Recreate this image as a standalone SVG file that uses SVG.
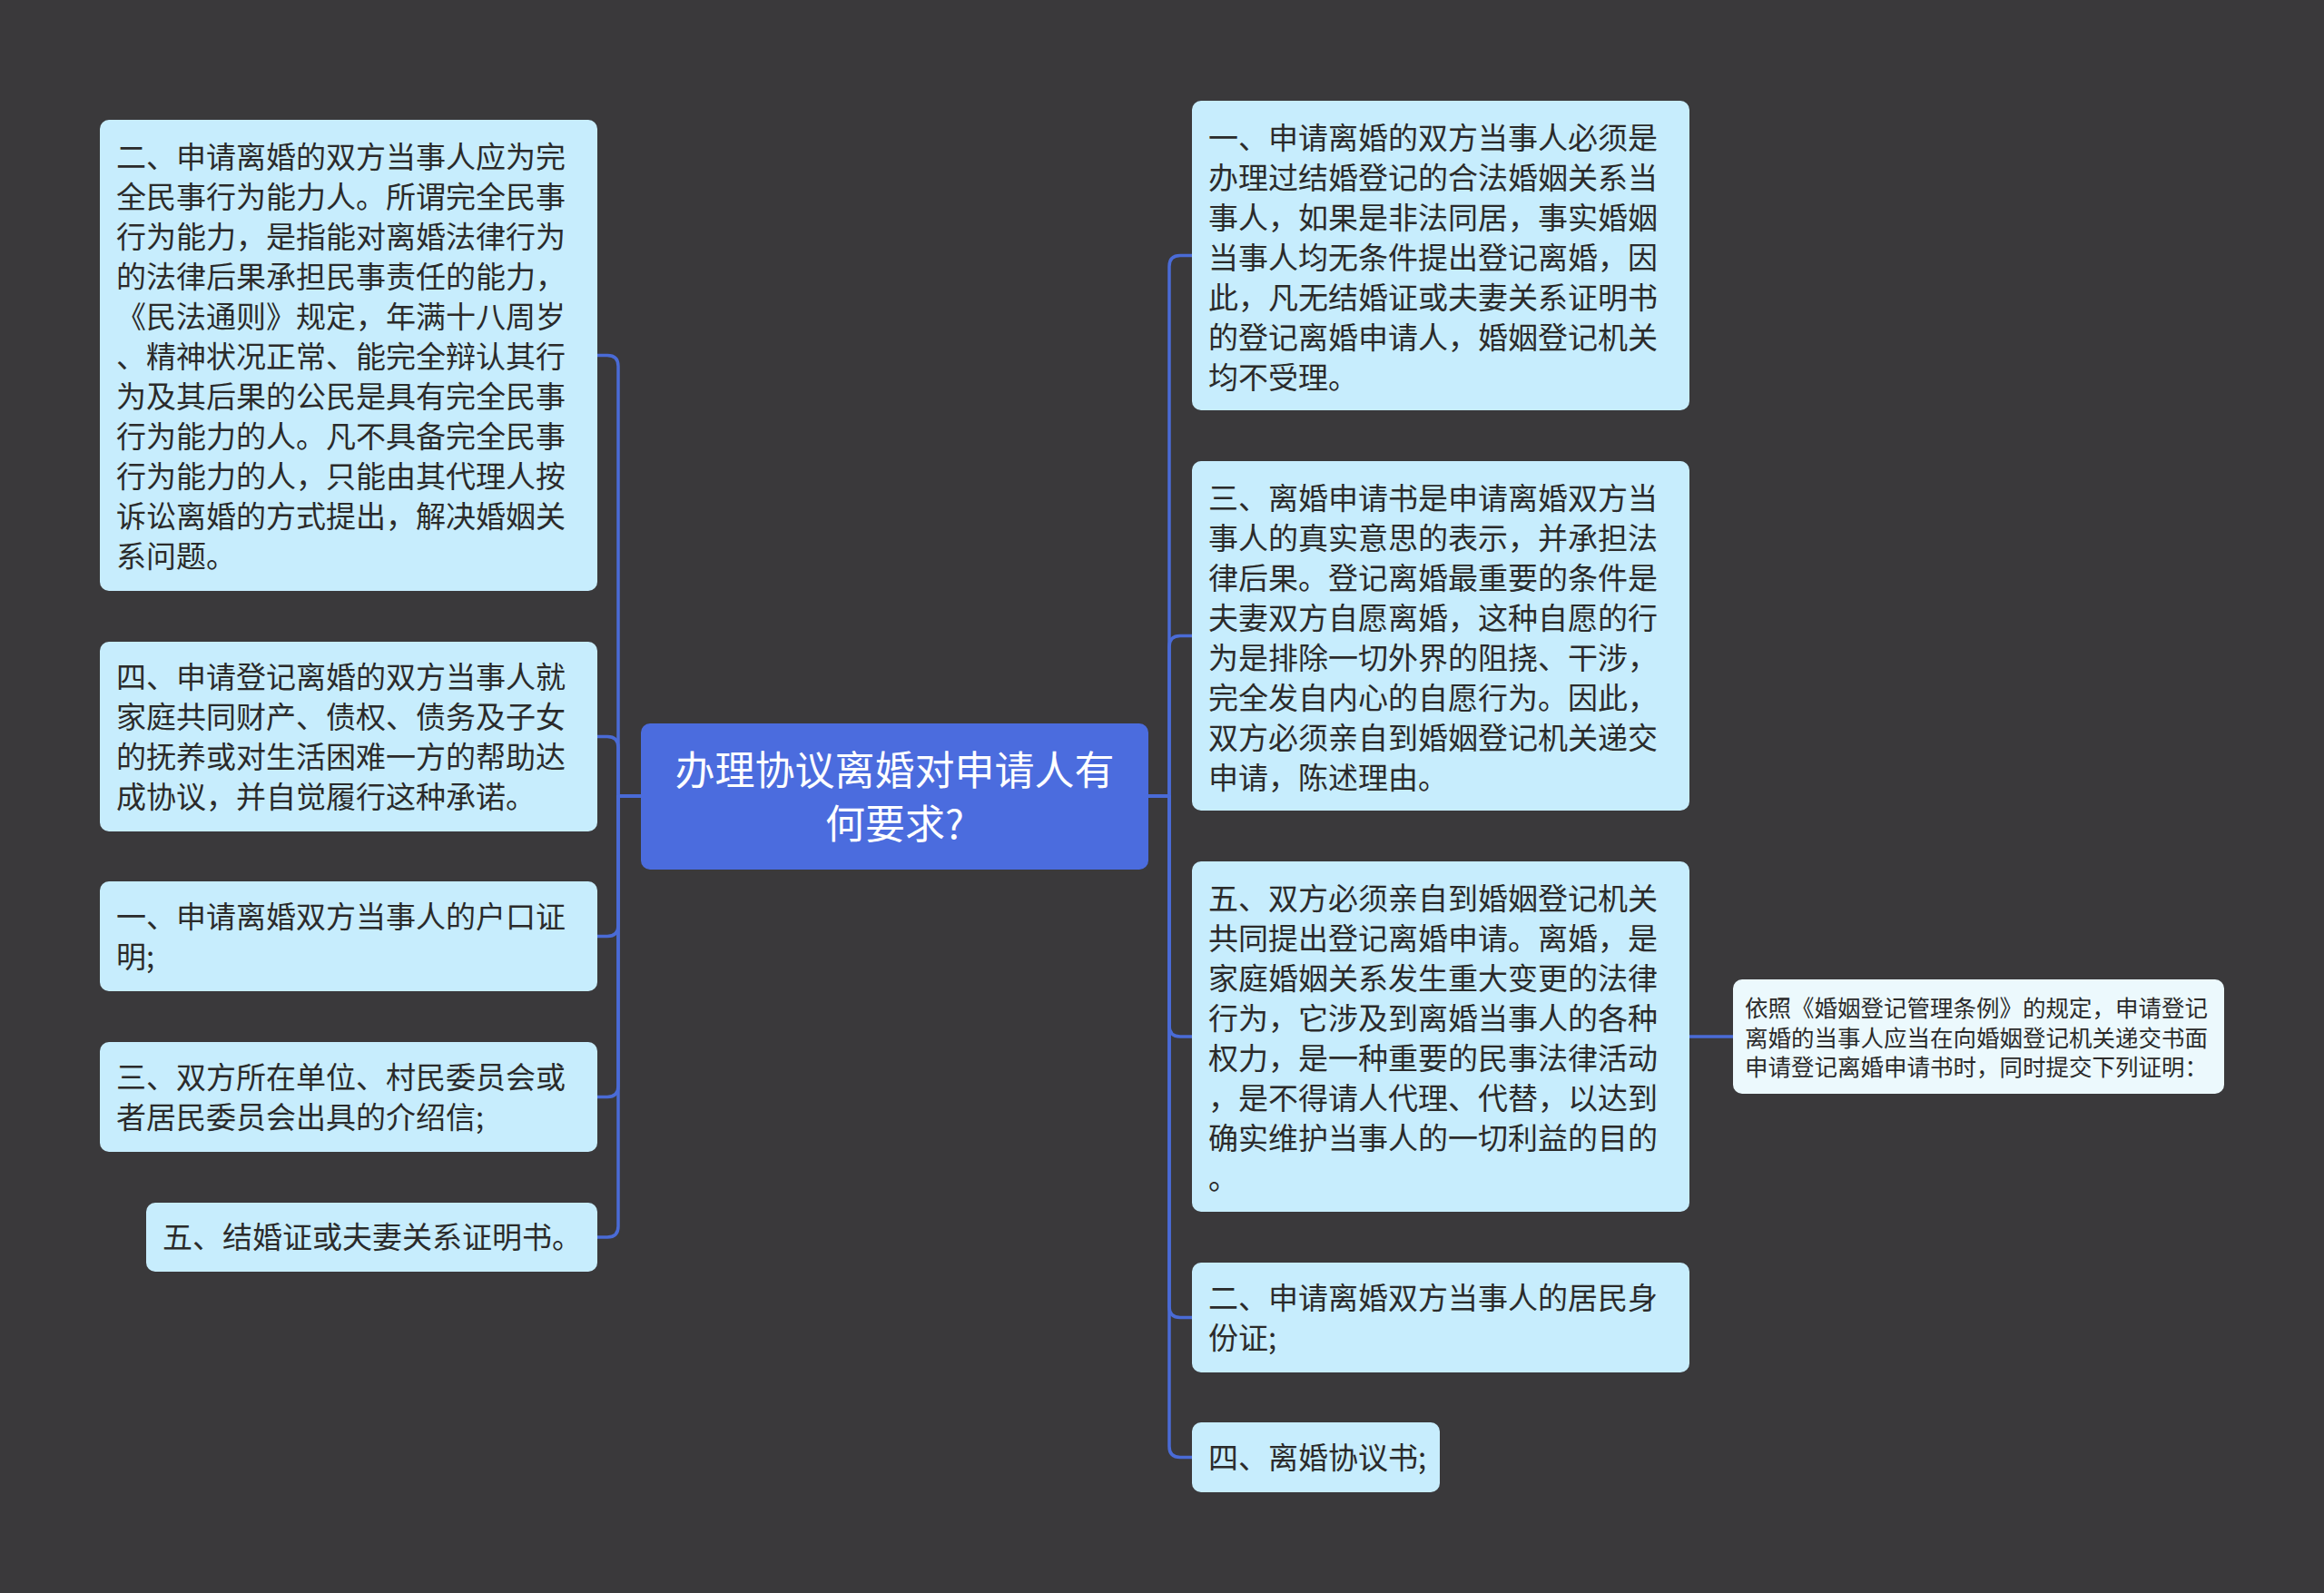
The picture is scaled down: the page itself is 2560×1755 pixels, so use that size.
<svg xmlns="http://www.w3.org/2000/svg" width="2560" height="1755" viewBox="0 0 2560 1755">
<style>
.bg{fill:#3a393b}
.box{fill:#c7edfd}
.fr{fill:#ecf9fd}
.ctr{fill:#4b6cde}
.t{font-family:"Noto Sans CJK SC","Noto Sans",sans-serif;font-size:33px;fill:#2b2b2b}
.ts{font-family:"Noto Sans CJK SC","Noto Sans",sans-serif;font-size:25.5px;fill:#2b2b2b}
.tc{font-family:"Noto Sans CJK SC","Noto Sans",sans-serif;font-size:44px;fill:#ffffff;text-anchor:middle}
.c{fill:none;stroke:#4a6bd6;stroke-width:3.5;stroke-linecap:round;stroke-linejoin:round}
</style>
<rect class="bg" x="0" y="0" width="2560" height="1755"/>
<g id="connectors">
<path class="c" d="M706,877 H681 V403.5 Q681,391.5 669,391.5 H658"/>
<path class="c" d="M706,877 H681 V823.5 Q681,811.5 669,811.5 H658"/>
<path class="c" d="M706,877 H681 V1019.5 Q681,1031.5 669,1031.5 H658"/>
<path class="c" d="M706,877 H681 V1196.5 Q681,1208.5 669,1208.5 H658"/>
<path class="c" d="M706,877 H681 V1351 Q681,1363 669,1363 H658"/>
<path class="c" d="M1265,877 H1288 V293.5 Q1288,281.5 1300,281.5 H1313"/>
<path class="c" d="M1265,877 H1288 V712.5 Q1288,700.5 1300,700.5 H1313"/>
<path class="c" d="M1265,877 H1288 V1130 Q1288,1142 1300,1142 H1313"/>
<path class="c" d="M1265,877 H1288 V1439.5 Q1288,1451.5 1300,1451.5 H1313"/>
<path class="c" d="M1265,877 H1288 V1593.5 Q1288,1605.5 1300,1605.5 H1313"/>
<path class="c" d="M1861,1142 H1909"/>
</g>
<g id="center">
<rect class="ctr" x="706" y="797" width="559" height="161" rx="10"/>
<text class="tc"><tspan x="985.5" y="865">办理协议离婚对申请人有</tspan><tspan x="985.5" y="924">何要求?</tspan></text>
</g>
<g id="L1">
<rect class="box" x="110" y="132" width="548" height="519" rx="10"/>
<text class="t"><tspan x="128" y="184.5">二、申请离婚的双方当事人应为完</tspan><tspan x="128" y="228.5">全民事行为能力人。所谓完全民事</tspan><tspan x="128" y="272.5">行为能力，是指能对离婚法律行为</tspan><tspan x="128" y="316.5">的法律后果承担民事责任的能力，</tspan><tspan x="128" y="360.5">《民法通则》规定，年满十八周岁</tspan><tspan x="128" y="404.5">、精神状况正常、能完全辩认其行</tspan><tspan x="128" y="448.5">为及其后果的公民是具有完全民事</tspan><tspan x="128" y="492.5">行为能力的人。凡不具备完全民事</tspan><tspan x="128" y="536.5">行为能力的人，只能由其代理人按</tspan><tspan x="128" y="580.5">诉讼离婚的方式提出，解决婚姻关</tspan><tspan x="128" y="624.5">系问题。</tspan></text>
</g>
<g id="L2">
<rect class="box" x="110" y="707" width="548" height="209" rx="10"/>
<text class="t"><tspan x="128" y="757.5">四、申请登记离婚的双方当事人就</tspan><tspan x="128" y="801.5">家庭共同财产、债权、债务及子女</tspan><tspan x="128" y="845.5">的抚养或对生活困难一方的帮助达</tspan><tspan x="128" y="889.5">成协议，并自觉履行这种承诺。</tspan></text>
</g>
<g id="L3">
<rect class="box" x="110" y="971" width="548" height="121" rx="10"/>
<text class="t"><tspan x="128" y="1021.5">一、申请离婚双方当事人的户口证</tspan><tspan x="128" y="1065.5">明;</tspan></text>
</g>
<g id="L4">
<rect class="box" x="110" y="1148" width="548" height="121" rx="10"/>
<text class="t"><tspan x="128" y="1198.5">三、双方所在单位、村民委员会或</tspan><tspan x="128" y="1242.5">者居民委员会出具的介绍信;</tspan></text>
</g>
<g id="L5">
<rect class="box" x="161" y="1325" width="497" height="76" rx="10"/>
<text class="t"><tspan x="179" y="1375">五、结婚证或夫妻关系证明书。</tspan></text>
</g>
<g id="R1">
<rect class="box" x="1313" y="111" width="548" height="341" rx="10"/>
<text class="t"><tspan x="1331" y="163.5">一、申请离婚的双方当事人必须是</tspan><tspan x="1331" y="207.5">办理过结婚登记的合法婚姻关系当</tspan><tspan x="1331" y="251.5">事人，如果是非法同居，事实婚姻</tspan><tspan x="1331" y="295.5">当事人均无条件提出登记离婚，因</tspan><tspan x="1331" y="339.5">此，凡无结婚证或夫妻关系证明书</tspan><tspan x="1331" y="383.5">的登记离婚申请人，婚姻登记机关</tspan><tspan x="1331" y="427.5">均不受理。</tspan></text>
</g>
<g id="R2">
<rect class="box" x="1313" y="508" width="548" height="385" rx="10"/>
<text class="t"><tspan x="1331" y="560.5">三、离婚申请书是申请离婚双方当</tspan><tspan x="1331" y="604.5">事人的真实意思的表示，并承担法</tspan><tspan x="1331" y="648.5">律后果。登记离婚最重要的条件是</tspan><tspan x="1331" y="692.5">夫妻双方自愿离婚，这种自愿的行</tspan><tspan x="1331" y="736.5">为是排除一切外界的阻挠、干涉，</tspan><tspan x="1331" y="780.5">完全发自内心的自愿行为。因此，</tspan><tspan x="1331" y="824.5">双方必须亲自到婚姻登记机关递交</tspan><tspan x="1331" y="868.5">申请，陈述理由。</tspan></text>
</g>
<g id="R3">
<rect class="box" x="1313" y="949" width="548" height="386" rx="10"/>
<text class="t"><tspan x="1331" y="1002">五、双方必须亲自到婚姻登记机关</tspan><tspan x="1331" y="1046">共同提出登记离婚申请。离婚，是</tspan><tspan x="1331" y="1090">家庭婚姻关系发生重大变更的法律</tspan><tspan x="1331" y="1134">行为，它涉及到离婚当事人的各种</tspan><tspan x="1331" y="1178">权力，是一种重要的民事法律活动</tspan><tspan x="1331" y="1222">，是不得请人代理、代替，以达到</tspan><tspan x="1331" y="1266">确实维护当事人的一切利益的目的</tspan><tspan x="1331" y="1310">。</tspan></text>
</g>
<g id="R4">
<rect class="box" x="1313" y="1391" width="548" height="121" rx="10"/>
<text class="t"><tspan x="1331" y="1441.5">二、申请离婚双方当事人的居民身</tspan><tspan x="1331" y="1485.5">份证;</tspan></text>
</g>
<g id="R5">
<rect class="box" x="1313" y="1567" width="273" height="77" rx="10"/>
<text class="t"><tspan x="1331" y="1617.5">四、离婚协议书;</tspan></text>
</g>
<g id="FR">
<rect class="fr" x="1909" y="1079" width="541" height="126" rx="10"/>
<text class="ts"><tspan x="1922" y="1120">依照《婚姻登记管理条例》的规定，申请登记</tspan><tspan x="1922" y="1152.5">离婚的当事人应当在向婚姻登记机关递交书面</tspan><tspan x="1922" y="1185">申请登记离婚申请书时，同时提交下列证明：</tspan></text>
</g>
</svg>
